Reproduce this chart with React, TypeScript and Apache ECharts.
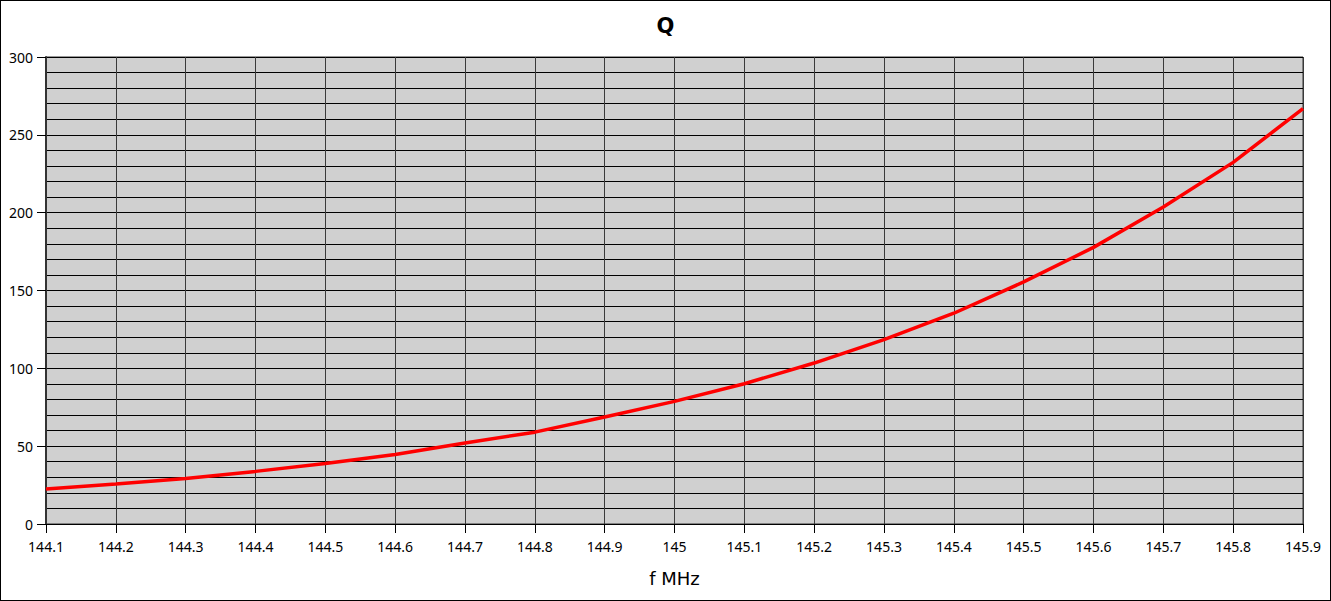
import React, { useEffect, useRef } from "react";
import * as echarts from "echarts";

const freqLabels: string[] = [
  "144.1", "144.2", "144.3", "144.4", "144.5", "144.6", "144.7", "144.8", "144.9", "145",
  "145.1", "145.2", "145.3", "145.4", "145.5", "145.6", "145.7", "145.8", "145.9",
];

const qValues: number[] = [
  22.5, 25.7, 29.3, 33.8, 38.9, 44.7, 52.0, 59.0, 68.7, 78.8,
  90.1, 103.4, 118.4, 135.4, 155.5, 177.7, 203.6, 232.3, 266.8,
];

const chartTitle = "Q";
const xAxisName = "f MHz";
const yMin = 0;
const yMax = 300;
const yStep = 50;

const FONT = "DejaVu Sans";
const LABEL_FONT = "Noto Sans";

export default function App() {
  const ref = useRef<HTMLDivElement>(null);

  useEffect(() => {
    if (!ref.current) return;
    const chart = echarts.init(ref.current, null, { renderer: "svg" });
    chart.setOption({
      animation: false,
      backgroundColor: "#ffffff",
      title: {
        text: chartTitle,
        left: "center",
        top: 10,
        textStyle: { fontFamily: FONT, fontSize: 21, fontWeight: "bold", color: "#000" },
      },
      grid: {
        left: 46,
        right: 28,
        top: 57,
        bottom: 77,
        show: true,
        backgroundColor: "#d0d0d0",
        borderColor: "#333",
        borderWidth: 1,
      },
      xAxis: {
        type: "category",
        data: freqLabels,
        boundaryGap: false,
        name: xAxisName,
        nameLocation: "middle",
        nameGap: 45,
        nameTextStyle: { fontFamily: FONT, fontSize: 18, color: "#000" },
        axisLine: { show: true, lineStyle: { color: "#000", width: 1 } },
        axisTick: { show: true, length: 9, interval: 0, lineStyle: { color: "#000", width: 1 } },
        axisLabel: { interval: 0, margin: 15, fontFamily: LABEL_FONT, fontSize: 14, color: "#000" },
        splitLine: { show: true, interval: 0, lineStyle: { color: "#3a3a3a", width: 1 } },
      },
      yAxis: {
        type: "value",
        min: yMin,
        max: yMax,
        interval: yStep,
        axisLine: { show: true, lineStyle: { color: "#333", width: 2 } },
        axisTick: { show: true, length: 9, lineStyle: { color: "#000", width: 1 } },
        axisLabel: { margin: 13, fontFamily: LABEL_FONT, fontSize: 14, color: "#000" },
        splitLine: { show: true, lineStyle: { color: "#000", width: 1 } },
        minorTick: { show: false, splitNumber: 5 },
        minorSplitLine: { show: true, lineStyle: { color: "#000", width: 1 } },
      },
      series: [
        {
          type: "line",
          data: qValues,
          symbol: "none",
          smooth: false,
          lineStyle: { color: "#ff0000", width: 3.5 },
          z: 5,
        },
      ],
    });
    return () => chart.dispose();
  }, []);

  return (
    <div
      style={{
        position: "fixed",
        left: 0,
        top: 0,
        width: 1331,
        height: 601,
        background: "#fff",
      }}
    >
      <div ref={ref} style={{ width: 1331, height: 601 }} />
      <div
        style={{
          position: "absolute",
          left: 0,
          top: 0,
          width: 1331,
          height: 601,
          border: "1px solid #000",
          boxSizing: "border-box",
          pointerEvents: "none",
        }}
      />
    </div>
  );
}
